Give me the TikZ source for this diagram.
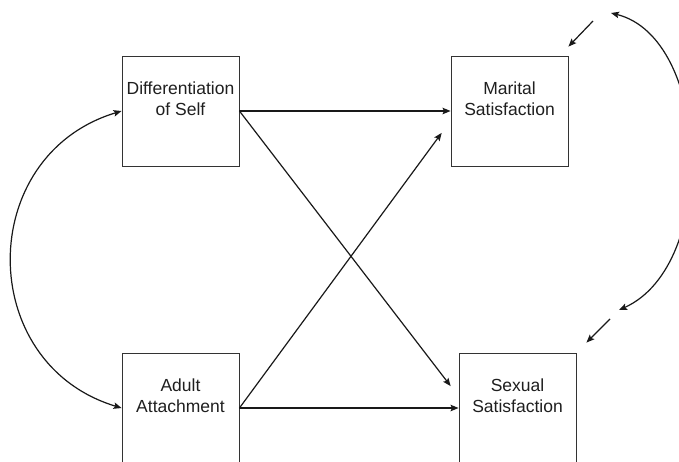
\documentclass[tikz,border=0pt]{standalone}
\usepackage{fontspec}
\setmainfont{Liberation Sans}
\usetikzlibrary{arrows.meta}
\begin{document}
\begin{tikzpicture}[x=1pt,y=-1pt,
  box/.style={draw=black!80,line width=0.9pt,minimum width=117pt,minimum height=110pt,inner sep=0pt},
  boxtext/.style={font=\fontsize{17.5}{21}\selectfont,text=black!88,align=center,inner sep=0pt,yshift=12.5pt},
  arr/.style={draw=black!90,line width=1.2pt,-{Stealth[length=8pt,width=6.5pt,inset=1.5pt]}},
  cov/.style={draw=black!90,line width=1.2pt,{Stealth[length=8pt,width=6.5pt,inset=1.5pt]}-{Stealth[length=8pt,width=6.5pt,inset=1.5pt]}}]
\clip (0,0) rectangle (679,461);
\fill[white] (0,0) rectangle (679,461);

% observed variables
\node[box,label={[boxtext]center:Differentiation\\of Self}] (diff) at (180.5,111) {};
\node[box,label={[boxtext]center:Marital\\Satisfaction}] (mar) at (509.5,111) {};
\node[box,label={[boxtext]center:Adult\\Attachment}] (adult) at (180.5,408) {};
\node[box,label={[boxtext]center:Sexual\\Satisfaction}] (sex) at (517.5,408) {};

% free ends of the residual arrows and the residual covariance
\coordinate (merr) at (593,21);
\coordinate (serr) at (610,319);
\coordinate (covtop) at (611,13);
\coordinate (covbot) at (619,310);

% paths
\draw[arr] (diff.east) -- (mar.west);
\draw[arr] (adult.east) -- (sex.west);
\draw[arr,shorten >=13pt] (diff.east) -- ([yshift=11.6pt]sex.west);
\draw[arr,shorten >=15pt] (adult.east) -- ([yshift=-9.8pt]mar.west);

% covariance of the predictors
\draw[cov] (diff.west) .. controls +(-146.5,44.4) and +(-146.5,-44.4) .. (adult.west);

% residuals
\draw[arr] (merr) -- ([yshift=9pt]mar.north east);
\draw[arr] (serr) -- ([xshift=10pt,yshift=10pt]sex.north east);
\draw[cov] (covtop) .. controls +(100,25) and +(100,-45) .. (covbot);
\end{tikzpicture}
\end{document}
